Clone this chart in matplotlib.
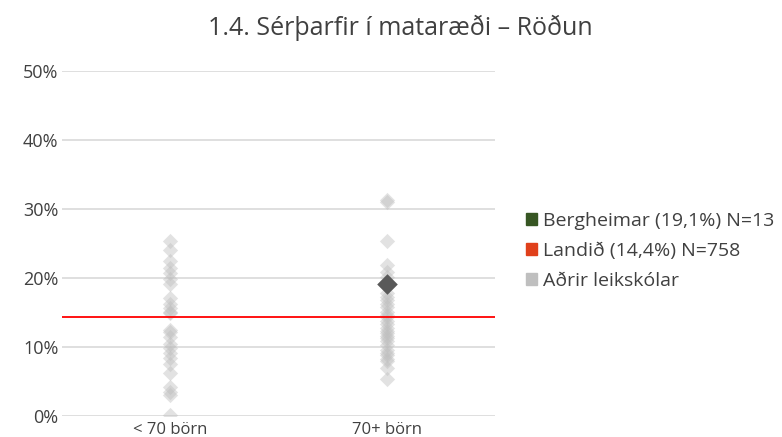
import numpy as np
import matplotlib
matplotlib.use("Agg")
import matplotlib.pyplot as plt
from matplotlib.patches import Patch

# values (percent)
categories = ["< 70 börn", "70+ börn"]
small_schools = [25.3, 24.1, 22.4, 21.4, 20.7, 19.9, 19.2, 17.1, 16.3, 15.6, 15.1, 14.9,
                 12.5, 12.2, 11.5, 10.5, 9.8, 9.1, 8.4, 7.6, 6.2, 4.2, 3.5, 3.0, 0.1]
large_schools = [31.3, 31.0, 25.3, 21.9, 20.9, 20.2, 17.8, 17.2, 16.8, 16.3, 15.8, 15.1,
                 14.6, 14.4, 13.8, 13.4, 12.7, 12.3, 12.0, 11.6, 11.3, 10.8, 10.3, 9.6,
                 9.2, 8.8, 8.3, 7.9, 6.9, 5.4]
school_value = 19.1   # Bergheimar, in 70+ börn
national_value = 14.4  # Landið
school_label = "Bergheimar (19,1%) N=13"
national_label = "Landið (14,4%) N=758"
others_label = "Aðrir leikskólar"
title = "1.4. Sérþarfir í mataræði – Röðun"

text_color = "#404040"
plt.rcParams["font.family"] = ["Open Sans", "DejaVu Sans"]

fig = plt.figure(figsize=(7.82, 4.37), dpi=100)
ax = fig.add_axes([62 / 782, 21 / 437, 433 / 782, 345 / 437])

# other schools as faint diamonds
for i, vals in enumerate([small_schools, large_schools]):
    ax.scatter(np.full(len(vals), i), vals, marker="D", s=60, color="#bfbfbf",
               alpha=0.45, linewidths=0, zorder=3)

# this school
ax.scatter([1], [school_value], marker="D", s=110, color="#595959", linewidths=0, zorder=4)

# national average line
ax.axhline(national_value, color="#ff0000", linewidth=1.3, zorder=5)

ax.set_xlim(-0.5, 1.5)
ax.set_ylim(0, 50)
ax.set_yticks(range(0, 51, 10))
ax.set_yticklabels([f"{v}%" for v in range(0, 51, 10)])
ax.set_xticks(range(len(categories)))
ax.set_xticklabels(categories)
ax.grid(axis="y", color="#d9d9d9", linewidth=1.2, zorder=0)
ax.set_axisbelow(True)
for s in ax.spines.values():
    s.set_visible(False)
ax.tick_params(axis="both", length=0, colors=text_color)
ax.tick_params(axis="y", labelsize=13, pad=2.5)
ax.tick_params(axis="x", labelsize=12, pad=4)

fig.text(400 / 782, 1 - 28 / 437, title, ha="center", va="center",
         fontsize=18, color=text_color)

handles = [Patch(color="#375623", label=school_label),
           Patch(color="#e0401b", label=national_label),
           Patch(color="#bfbfbf", label=others_label)]
leg = fig.legend(handles=handles, loc="center left", bbox_to_anchor=(508 / 782, 1 - 251 / 437),
                 frameon=False, fontsize=14, handlelength=0.6, handleheight=0.6,
                 handletextpad=0.3, labelspacing=0.62, labelcolor=text_color)

fig.savefig("out.png", dpi=100)
